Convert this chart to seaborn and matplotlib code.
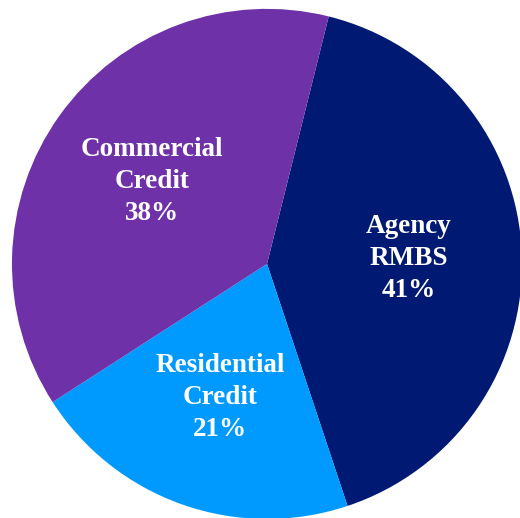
import matplotlib.pyplot as plt
import seaborn as sns

# portfolio allocation
categories = ['Agency\nRMBS', 'Residential\nCredit', 'Commercial\nCredit']
shares = [41, 21, 38]
colors = ['#001a73', '#009aff', '#6e31a8']

sns.set_style('white')
plt.rcParams['font.family'] = ['Liberation Serif', 'DejaVu Serif']

fig = plt.figure(figsize=(5.2, 5.18), dpi=100)
ax = fig.add_axes([0.023, -0.002, 0.981, 0.985])

labels_iter = iter(categories)
wedges, texts, autotexts = ax.pie(
    shares,
    colors=colors,
    startangle=76,
    counterclock=False,
    radius=1.0,
    autopct=lambda p: f"{next(labels_iter)}\n{p:.0f}%",
    pctdistance=0.555,
    wedgeprops=dict(linewidth=0),
    textprops=dict(color='white', fontsize=19.5, fontweight='bold', linespacing=1.38),
)
for t in autotexts:
    t.set_ha('center')
    t.set_multialignment('center')

ax.set_xlim(-1, 1)
ax.set_ylim(-1, 1)
ax.set_aspect('equal')
ax.axis('off')

fig.savefig('out.png', dpi=100)
